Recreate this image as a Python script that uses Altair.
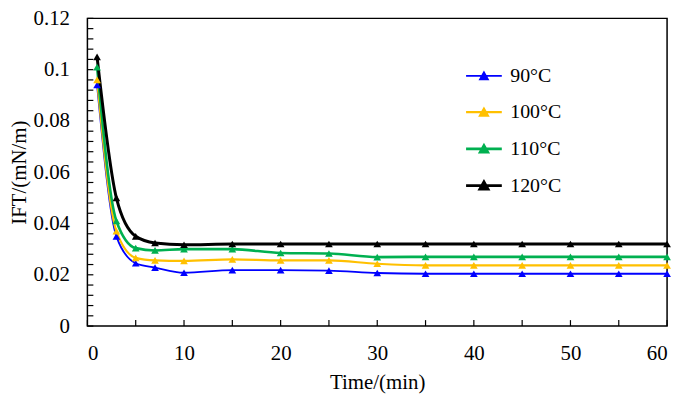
import altair as alt
import pandas as pd

time_min = [1, 3, 5, 7, 10, 15, 20, 25, 30, 35, 40, 45, 50, 55, 60]
ift_90 = [0.094, 0.035, 0.0245, 0.0228, 0.0208, 0.0218, 0.0218, 0.0216, 0.0207, 0.0204, 0.0204, 0.0204, 0.0204, 0.0204, 0.0204]
ift_100 = [0.096, 0.037, 0.0266, 0.0256, 0.0254, 0.026, 0.0256, 0.0256, 0.0243, 0.0237, 0.0237, 0.0237, 0.0237, 0.0237, 0.0237]
ift_110 = [0.101, 0.041, 0.0304, 0.0295, 0.030, 0.030, 0.0285, 0.0283, 0.0269, 0.027, 0.027, 0.027, 0.027, 0.027, 0.027]
ift_120 = [0.105, 0.050, 0.035, 0.0324, 0.0317, 0.032, 0.032, 0.032, 0.032, 0.032, 0.032, 0.032, 0.032, 0.032, 0.032]

series_names = ["90°C", "100°C", "110°C", "120°C"]
series_colors = ["#0000FF", "#FFC000", "#00B050", "#000000"]
series_widths = [1.8, 3.0, 1.5, 1.8]

x_label_values = [0, 10, 20, 30, 40, 50, 60]
x_tick_values = [0, 5, 10, 15, 20, 25, 30, 35, 40, 45, 50, 55, 60]
y_label_values = [0, 0.02, 0.04, 0.06, 0.08, 0.1, 0.12]
y_tick_values = [round(i * 0.004, 3) for i in range(31)]

rows = []
for name, vals in zip(series_names, [ift_90, ift_100, ift_110, ift_120]):
    for t, v in zip(time_min, vals):
        rows.append({"time": t, "ift": v, "series": name})
df = pd.DataFrame(rows)

FONT = "Liberation Serif"
xscale = alt.Scale(domain=[0, 60], nice=False, zero=False)
yscale = alt.Scale(domain=[0, 0.12], nice=False)
color_scale = alt.Scale(domain=series_names, range=series_colors)
width_scale = alt.Scale(domain=series_names, range=series_widths)

legend = alt.Legend(
    title=None,
    orient="none",
    legendX=380,
    legendY=39,
    symbolType="M-1,0H1M-0.22,0.19L0,-0.2L0.22,0.19Z",
    symbolSize=1296,
    symbolStrokeWidth=1.8,
    labelOffset=7,
    rowPadding=7,
    padding=0,
    labelFont=FONT,
    labelFontSize=20,
    labelColor="black",
)

x_axis = alt.Axis(
    values=x_label_values, domain=False, ticks=False, tickSize=0, grid=False,
    labelFont=FONT, labelFontSize=21, labelColor="black", labelPadding=17,
    titleFont=FONT, titleFontSize=21, titleFontWeight="normal", titleColor="black",
    titlePadding=8,
)
y_axis = alt.Axis(
    values=y_label_values, domain=False, ticks=False, tickSize=0, grid=False,
    labelFont=FONT, labelFontSize=21, labelColor="black", labelPadding=18,
    labelExpr="format(datum.value, '.2~f')",
    titleFont=FONT, titleFontSize=21, titleFontWeight="normal", titleColor="black",
    titlePadding=4,
)

x_enc = alt.X("time:Q", scale=xscale, title="Time/(min)", axis=x_axis)
y_enc = alt.Y("ift:Q", scale=yscale, title="IFT/(mN/m)", axis=y_axis)

lines = alt.Chart(df).mark_line(interpolate="monotone").encode(
    x=x_enc,
    y=y_enc,
    color=alt.Color("series:N", scale=color_scale, legend=legend, sort=series_names),
    strokeWidth=alt.StrokeWidth("series:N", scale=width_scale, legend=None),
)

points = alt.Chart(df).mark_point(shape="triangle-up", filled=True, size=60, opacity=1).encode(
    x=x_enc,
    y=y_enc,
    color=alt.Color("series:N", scale=color_scale, legend=legend, sort=series_names),
)

xt = pd.DataFrame({"time": x_tick_values})
yt = pd.DataFrame({"ift": y_tick_values})

x_ticks = alt.Chart(xt).mark_rule(color="black", strokeWidth=1.2).encode(
    x=x_enc, y=alt.value(310), y2=alt.value(304)
)
y_ticks = alt.Chart(yt).mark_rule(color="black", strokeWidth=1.2).encode(
    y=y_enc, x=alt.value(0), x2=alt.value(6)
)

chart = alt.layer(x_ticks, y_ticks, lines, points).properties(
    width=584,
    height=310,
    autosize=alt.AutoSizeParams(type="none"),
    padding={"left": 80, "top": 9, "right": 10, "bottom": 70},
).configure_view(
    stroke="black", strokeWidth=1.5
)

chart.save("out.html", embed_options={"renderer": "svg", "actions": False})
